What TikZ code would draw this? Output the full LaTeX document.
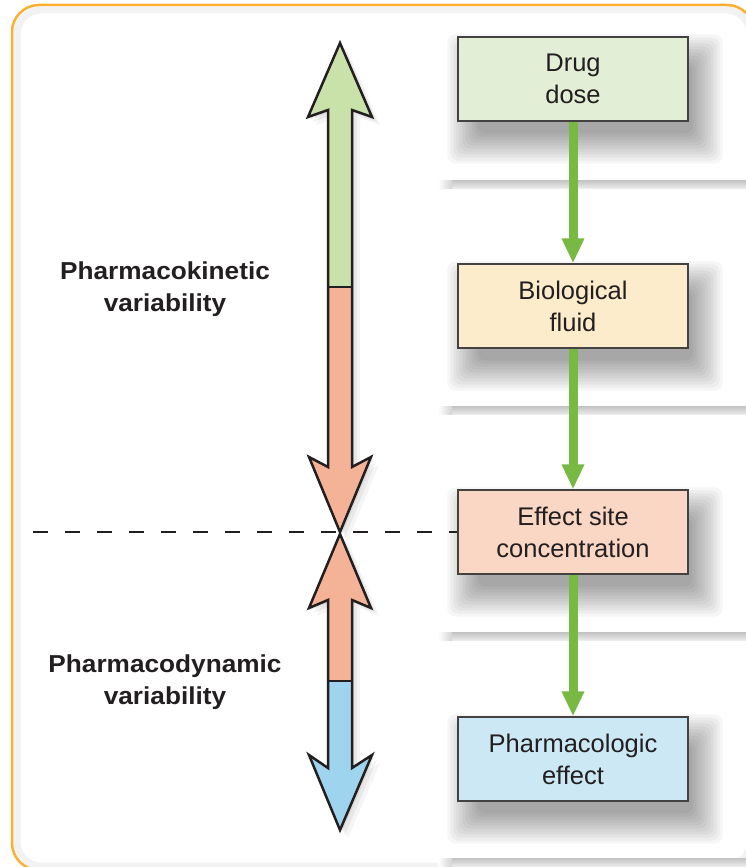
\documentclass[tikz,border=0pt]{standalone}
\usepackage{fontspec}
\setmainfont{Liberation Sans}
\newfontfamily\lblfont[FakeStretch=1.07]{Liberation Sans Bold}
\usetikzlibrary{arrows.meta,backgrounds}
\definecolor{ink}{HTML}{231F20}
\definecolor{frameorange}{HTML}{FBB034}
\definecolor{cgreen}{HTML}{78B943}
\definecolor{agreen}{HTML}{C9E2AA}
\definecolor{asalmon}{HTML}{F4B296}
\definecolor{ablue}{HTML}{9ED4EE}
\definecolor{fdose}{HTML}{E2EED5}
\definecolor{ffluid}{HTML}{FDECCC}
\definecolor{fsite}{HTML}{FAD6C5}
\definecolor{feffect}{HTML}{CDE8F5}
\def\uparr{(340,43) -- (372,117) -- (352,110) -- (352,467) -- (371,457) -- (340,532) -- (309,457) -- (328,467) -- (328,110) -- (308,117) -- cycle}
\def\loarr{(340,534) -- (371,608) -- (352,600) -- (352,768) -- (372,755) -- (340,830) -- (309,755) -- (328,768) -- (328,600) -- (309,608) -- cycle}
\begin{document}
\begin{tikzpicture}[x=1pt,y=-1pt,
  box/.style={draw=ink!85, line width=1.3pt, minimum width=230pt, minimum height=84pt,
    inner sep=0pt, align=center, text=ink, font=\fontsize{25.5}{32}\selectfont},
  lbl/.style={inner sep=0pt, align=center, text=ink,
    font=\lblfont\fontsize{24.5}{32}\selectfont},
  conn/.style={draw=cgreen, line width=9pt, -{Triangle[width=21pt,length=25pt]}},
  outline/.style={draw=ink, line width=2.5pt, line join=miter},
  shelf/.style={top color=black!24, bottom color=black!8}]
\useasboundingbox (0,0) rectangle (746,867);

% boxes
\node[box, fill=fdose]   (dose)   at (573,79)  {Drug\\dose};
\node[box, fill=ffluid]  (fluid)  at (573,306) {Biological\\fluid};
\node[box, fill=fsite]   (site)   at (573,532) {Effect site\\concentration};
\node[box, fill=feffect] (effect) at (573,759) {Pharmacologic\\effect};

% labels
\node[lbl] (pk) at (165,289) {Pharmacokinetic\\variability};
\node[lbl] (pd) at (165,682) {Pharmacodynamic\\variability};

\begin{scope}[on background layer]
  \fill[white] (0,0) rectangle (746,867);
  % inner frame shadow
  \draw[black, opacity=0.05, line width=7pt, rounded corners=24pt] (17,10) rectangle (750,866);
  \draw[frameorange, line width=2.5pt, rounded corners=27pt] (12,5) rectangle (754,870);
  % shelves
  \foreach \y in {180,406,632,858}{
    \fill[shelf] (452,\y) rectangle (746,\y+8);
    \fill[left color=white, right color=black!17] (438,\y) rectangle (452,\y+8);
  }
  % box shadows
  \foreach \b in {dose,fluid,site,effect}{
    \foreach \e in {-8,-5,...,22}{
      \fill[black, opacity=0.035, rounded corners=8pt]
        ([shift={(12-\e,20-\e)}]\b.north west) rectangle ([shift={(12+\e,20+\e)}]\b.south east);
    }
  }
  % arrow shadows
  \foreach \o/\op in {2/0.07,5/0.05,8/0.04}{
    \fill[black, opacity=\op, shift={(\o,\o)}] \uparr;
    \fill[black, opacity=\op, shift={(\o,\o)}] \loarr;
  }
\end{scope}

% dashed divider
\coordinate (dstart) at (33,532);
\draw[ink, line width=2.5pt, dash pattern=on 15pt off 17pt] (dstart) -- (site.west);

% upper double arrow
\begin{scope}
  \clip (290,30) rectangle (390,287);
  \fill[agreen] \uparr;
\end{scope}
\begin{scope}
  \clip (290,287) rectangle (390,540);
  \fill[asalmon] \uparr;
\end{scope}
\draw[outline] (328,287) -- (352,287);
\draw[outline] \uparr;

% lower double arrow
\begin{scope}
  \clip (290,525) rectangle (390,681);
  \fill[asalmon] \loarr;
\end{scope}
\begin{scope}
  \clip (290,681) rectangle (390,840);
  \fill[ablue] \loarr;
\end{scope}
\draw[outline] (328,681) -- (352,681);
\draw[outline] \loarr;

% connectors
\draw[conn] (dose.south) -- (fluid.north);
\draw[conn] (fluid.south) -- (site.north);
\draw[conn] (site.south) -- (effect.north);
\end{tikzpicture}
\end{document}
